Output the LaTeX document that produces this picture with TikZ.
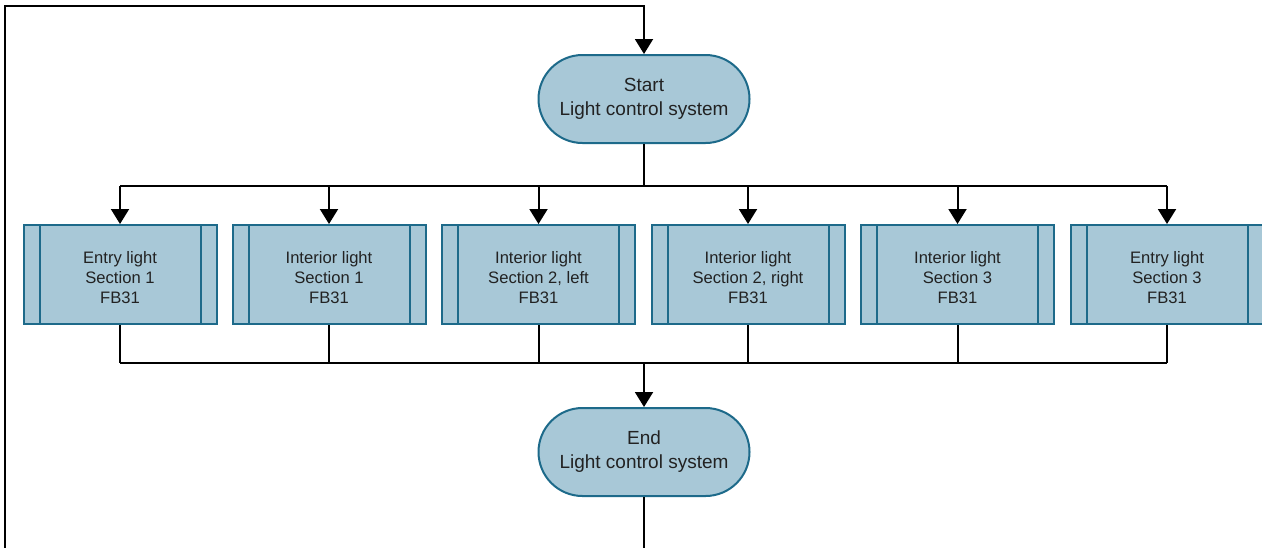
\documentclass[tikz,border=0pt]{standalone}
\usepackage{fontspec}
\setmainfont{Liberation Sans}
\usetikzlibrary{shapes.misc,arrows.meta}
\definecolor{boxfill}{HTML}{A8C8D7}
\definecolor{boxline}{HTML}{1D6A8A}
\definecolor{txt}{HTML}{222222}
\tikzset{
  term/.style={rounded rectangle, draw=boxline, fill=boxfill, line width=1pt,
    minimum width=105.5pt, minimum height=44pt, inner sep=0pt, align=center,
    text=txt, font=\fontsize{9.5}{12}\selectfont},
  fbbox/.style={rectangle, draw=boxline, fill=boxfill, line width=1pt,
    minimum width=96.5pt, minimum height=49.5pt, inner sep=0pt, align=center,
    text=txt, font=\fontsize{8.3}{9.8}\selectfont},
  conn/.style={line width=1pt, black},
  arr/.style={conn, -{Triangle[width=9pt,length=7.5pt]}}
}
\begin{document}
\begin{tikzpicture}[x=0.5pt,y=-0.5pt]
\clip (0,0) rectangle (1262,547);
\fill[white] (0,0) rectangle (1262,547);
\node[term] (start) at (644,99) {Start\\Light control system};
\node[term] (end) at (644,452) {End\\Light control system};
\foreach \i/\x/\t in {1/120/{Entry light\\Section 1\\FB31},
                      2/329/{Interior light\\Section 1\\FB31},
                      3/538.5/{Interior light\\Section 2, left\\FB31},
                      4/748/{Interior light\\Section 2, right\\FB31},
                      5/957.5/{Interior light\\Section 3\\FB31},
                      6/1167/{Entry light\\Section 3\\FB31}}{
  \node[fbbox] (b\i) at (\x,274.5) {};
  \node[align=center, text=txt, font=\fontsize{8.3}{9.8}\selectfont, inner sep=0pt] (t\i) at ([yshift=-1.5pt]b\i.center) {\t};
  \draw[boxline, line width=1pt] ([xshift=8.5pt]b\i.north west) -- ([xshift=8.5pt]b\i.south west);
  \draw[boxline, line width=1pt] ([xshift=-8.5pt]b\i.north east) -- ([xshift=-8.5pt]b\i.south east);
}
\coordinate (top) at (644,186);
\coordinate (bot) at (644,363);
\draw[conn] (start.south) -- (top);
\draw[conn] (b1.north |- top) -- (b6.north |- top);
\foreach \i in {1,...,6}{
  \draw[arr] (b\i.north |- top) -- (b\i.north);
  \draw[conn] (b\i.south) -- (b\i.south |- bot);
}
\draw[conn] (b1.south |- bot) -- (b6.south |- bot);
\draw[arr] (bot) -- (end.north);
\coordinate (c1) at (644,548.6);
\coordinate (c2) at (5,548.6);
\coordinate (c3) at (5,6);
\coordinate (c4) at (644,6);
\draw[arr] (end.south) -- (c1) -- (c2) -- (c3) -- (c4) -- (start.north);
\end{tikzpicture}
\end{document}
